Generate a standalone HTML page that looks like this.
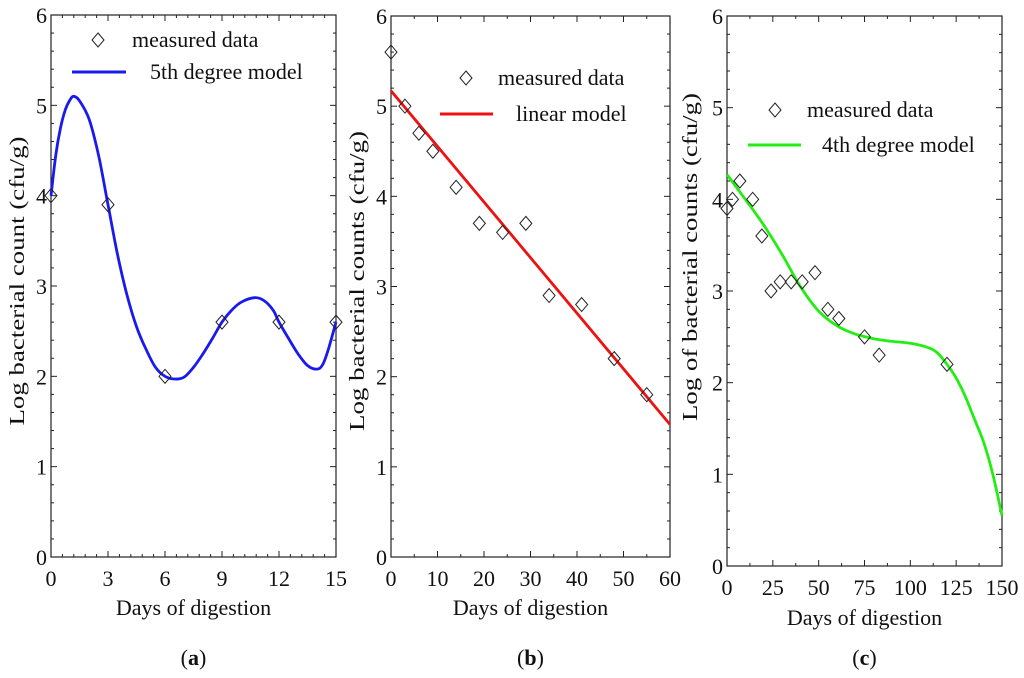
<!DOCTYPE html>
<html><head><meta charset="utf-8"><style>
body{margin:0;background:#fff;width:1024px;height:673px;overflow:hidden}
svg text{font-family:"Liberation Serif",serif;fill:#111}
</style></head><body>
<svg id="chart" width="1024" height="673" viewBox="0 0 1024 673"></svg>
<script>
// Panel a data
const aPointsX=[0,3,6,9,12,15];
const aPointsY=[4,3.9,2,2.6,2.6,2.6];
const aCurveX=[0,0.25,0.5,0.75,1,1.2,1.5,2,2.5,3,3.5,4,4.5,5,5.5,6,6.5,7,7.5,8,8.5,9,9.5,10,10.7,11.2,11.7,12,12.5,13,13.5,14,14.3,14.6,15];
const aCurveY=[4,4.45,4.75,4.95,5.06,5.1,5.05,4.85,4.45,3.9,3.35,2.9,2.55,2.3,2.1,2.0,1.97,1.99,2.1,2.25,2.42,2.6,2.73,2.82,2.87,2.84,2.73,2.6,2.42,2.25,2.12,2.08,2.13,2.3,2.6];
const aXTicks=[0,3,6,9,12,15];
// Panel b data
const bPointsX=[0,3,6,9,14,19,24,29,34,41,48,55];
const bPointsY=[5.6,5.0,4.7,4.5,4.1,3.7,3.6,3.7,2.9,2.8,2.2,1.8];
const bCurveX=[0,60];
const bCurveY=[5.17,1.47];
const bXTicks=[0,10,20,30,40,50,60];
// Panel c data
const cPointsX=[0,3,7,14,19,24,29,35,41,48,55,61,75,83,120];
const cPointsY=[3.9,4.0,4.2,4.0,3.6,3.0,3.1,3.1,3.1,3.2,2.8,2.7,2.5,2.3,2.2];
const cCurveX=[0,10,20,30,40,50,60,70,80,90,100,110,115,120,125,130,135,140,145,150];
const cCurveY=[4.27,4.0,3.72,3.4,3.05,2.78,2.62,2.53,2.48,2.45,2.43,2.38,2.32,2.2,2.05,1.85,1.6,1.35,1.0,0.55];
const cXTicks=[0,25,50,75,100,125,150];
const yTicks=[0,1,2,3,4,5,6];

const NS="http://www.w3.org/2000/svg";
const svg=document.getElementById('chart');
function mk(tag,attrs,parent){const e=document.createElementNS(NS,tag);for(const k in attrs)e.setAttribute(k,attrs[k]);(parent||svg).appendChild(e);return e;}

function smoothPath(pts){
  if(pts.length<3){return pts.map((p,i)=>(i?'L':'M')+p[0].toFixed(1)+','+p[1].toFixed(1)).join('');}
  let d='M'+pts[0][0].toFixed(1)+','+pts[0][1].toFixed(1);
  for(let i=0;i<pts.length-1;i++){
    const p0=pts[Math.max(i-1,0)],p1=pts[i],p2=pts[i+1],p3=pts[Math.min(i+2,pts.length-1)];
    const c1=[p1[0]+(p2[0]-p0[0])/6,p1[1]+(p2[1]-p0[1])/6];
    const c2=[p2[0]-(p3[0]-p1[0])/6,p2[1]-(p3[1]-p1[1])/6];
    d+='C'+c1[0].toFixed(1)+','+c1[1].toFixed(1)+' '+c2[0].toFixed(1)+','+c2[1].toFixed(1)+' '+p2[0].toFixed(1)+','+p2[1].toFixed(1);
  }
  return d;
}

function panel(cfg){
  const g=mk('g',{});
  
  
  const L=cfg.L,R=cfg.R,T=cfg.T,B=cfg.B,xmax=cfg.xTicks[cfg.xTicks.length-1];
  const sx=v=>L+(v/xmax)*(R-L), sy=v=>B-(v/6)*(B-T);
  const frame=mk('rect',{x:L,y:T,width:R-L,height:B-T,fill:'none',stroke:'#222','stroke-width':1.2},g);
  
  
  const step=cfg.xTicks[1]-cfg.xTicks[0];
  for(let v=0;v<=xmax+1e-9;v+=step/cfg.xMinor){
    const major=Math.abs(v/step-Math.round(v/step))<1e-6;const len=major?6:3;
    mk('line',{x1:sx(v),x2:sx(v),y1:B,y2:B-len,stroke:'#222'},g);
    mk('line',{x1:sx(v),x2:sx(v),y1:T,y2:T+len,stroke:'#222'},g);
  }
  for(let v=0;v<=6.0001;v+=0.2){
    const major=Math.abs(v-Math.round(v))<1e-6;const len=major?6:3;
    mk('line',{x1:L,x2:L+len,y1:sy(v),y2:sy(v),stroke:'#222'},g);
    mk('line',{x1:R,x2:R-len,y1:sy(v),y2:sy(v),stroke:'#222'},g);
  }
  cfg.xTicks.forEach(t=>{const e=mk('text',{x:sx(t),y:B+29,'text-anchor':'middle','font-size':22},g);e.textContent=t;
    });
  yTicks.forEach(t=>{const e=mk('text',{x:L-4,y:sy(t)+8,'text-anchor':'end','font-size':22},g);e.textContent=t;
    });
  const xt=mk('text',{x:(L+R)/2,y:cfg.xTitleY,'text-anchor':'middle','font-size':22},g);xt.textContent='Days of digestion';
  
  const yt=mk('text',{x:0,y:0,'text-anchor':'middle','font-size':21,textLength:cfg.yLen,lengthAdjust:'spacingAndGlyphs',transform:`translate(${cfg.yTitleX},${cfg.yC}) rotate(-90)`},g);yt.textContent=cfg.yTitle;
  
  const pts=cfg.cx.map((x,i)=>[sx(x),sy(cfg.cy[i])]);
  const p=mk('path',{d:smoothPath(pts),fill:'none',stroke:cfg.color,'stroke-width':2.8,'stroke-linejoin':'round'},g);
  
  const diamond=(x,y)=>`M${x},${y-7}L${x+6},${y}L${x},${y+7}L${x-6},${y}Z`;
  cfg.px.forEach((x,i)=>{const m=mk('path',{d:diamond(sx(x),sy(cfg.py[i])),fill:'none',stroke:'#222','stroke-width':1},g);
    });
  const lg=mk('g',{},g);
  
  
  mk('path',{d:diamond(cfg.lg.dx,cfg.lg.dy),fill:'none',stroke:'#222'},lg);
  let t1=mk('text',{x:cfg.lg.tx,y:cfg.lg.dy+7,'font-size':22},lg);t1.textContent='measured data';
  mk('line',{x1:cfg.lg.lx1,x2:cfg.lg.lx2,y1:cfg.lg.ly,y2:cfg.lg.ly,stroke:cfg.color,'stroke-width':3},lg);
  let t2=mk('text',{x:cfg.lg.t2x,y:cfg.lg.ly+7,'font-size':22},lg);t2.textContent=cfg.lg.label;
  const cap=mk('text',{x:(L+R)/2,y:665,'text-anchor':'middle','font-size':22},g);
  cap.innerHTML='(<tspan font-weight="bold">'+cfg.cap+'</tspan>)';
  
}
panel({name:'panel-a',L:51,R:336,T:15,B:557,xTicks:aXTicks,xMinor:5,px:aPointsX,py:aPointsY,cx:aCurveX,cy:aCurveY,color:'#1a1aee',
  yTitle:'Log bacterial count (cfu/g)',yTitleX:24,yC:281,yLen:289,xTitleY:615,cap:'a',
  lg:{dx:98,dy:40,tx:132,lx1:72,lx2:126,ly:72,t2x:150,label:'5th degree model'}});
panel({name:'panel-b',L:391,R:670,T:16,B:557,xTicks:bXTicks,xMinor:2,px:bPointsX,py:bPointsY,cx:bCurveX,cy:bCurveY,color:'#ee1111',
  yTitle:'Log bacterial counts (cfu/g)',yTitleX:364,yC:281,yLen:300,xTitleY:615,cap:'b',
  lg:{dx:466,dy:78,tx:498,lx1:440,lx2:493,ly:114,t2x:516,label:'linear model'}});
panel({name:'panel-c',L:727,R:1002,T:16,B:566,xTicks:cXTicks,xMinor:2,px:cPointsX,py:cPointsY,cx:cCurveX,cy:cCurveY,color:'#22ee11',
  yTitle:'Log of bacterial counts (cfu/g)',yTitleX:697,yC:257,yLen:328,xTitleY:625,cap:'c',
  lg:{dx:775,dy:110,tx:807,lx1:748,lx2:801,ly:145,t2x:822,label:'4th degree model'}});
</script>
</body></html>
